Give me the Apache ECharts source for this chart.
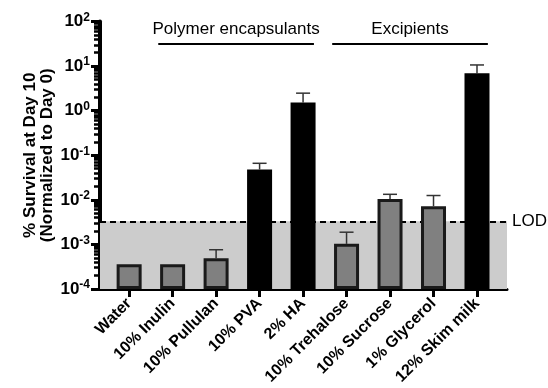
<!DOCTYPE html>
<html><head><meta charset="utf-8">
<script src="https://cdn.jsdelivr.net/npm/echarts@6/dist/echarts.min.js"></script>
<style>html,body{margin:0;padding:0;background:#fff}#c{width:548px;height:388px}</style>
</head><body><div id="c"></div>
<script>
const categories = ['Water','10% Inulin','10% Pullulan','10% PVA','2% HA','10% Trehalose','10% Sucrose','1% Glycerol','12% Skim milk'];
const survival = [3.6e-4, 3.6e-4, 4.9e-4, 0.048, 1.52, 1.03e-3, 0.0105, 0.0072, 6.9];
const errorUpper = [null, null, 7.6e-4, 0.066, 2.47, 1.88e-3, 0.0133, 0.0125, 10.6];
const isBlack = [false, false, false, true, true, false, false, false, true];
const lod = 3.3e-3;
const yTickValues = [1e-4, 1e-3, 1e-2, 1e-1, 1, 10, 100];
const groupNames = ['Polymer encapsulants', 'Excipients'];
const groupFrom = [0.67, 4.67];
const groupTo = [4.25, 8.25];

const FONT = "'Liberation Sans', Arial, Helvetica, sans-serif";
const minorTicks = [];
for (let d = -4; d < 2; d++) for (let k = 2; k <= 9; k++) minorTicks.push(+(k * Math.pow(10, d)).toPrecision(3));
const catIdx = categories.map((c, i) => i);

const chart = echarts.init(document.getElementById('c'));
const groupLevel = 31;
chart.setOption({
  animation: false,
  backgroundColor: '#fff',
  grid: { left: 100, right: 41, top: 21.5, bottom: 99 },
  xAxis: {
    type: 'value', min: -0.67, max: 8.69,
    axisLine: { show: true, onZero: false, lineStyle: { color: '#000', width: 3 } },
    axisTick: { show: true, customValues: catIdx, length: 8, lineStyle: { color: '#000', width: 3 } },
    axisLabel: { customValues: catIdx, rotate: 45, margin: 12, formatter: v => categories[Math.round(v)],
      fontFamily: FONT, fontWeight: 'bold', fontSize: 16, color: '#000' },
    splitLine: { show: false }
  },
  yAxis: [{
    type: 'log', logBase: 10, min: 1e-4, max: 100, startValue: 1e-4,
    name: '% Survival at Day 10\n(Normalized to Day 0)', nameLocation: 'middle', nameGap: 44, nameMoveOverlap: false,
    nameTextStyle: { fontFamily: FONT, fontWeight: 'bold', fontSize: 17, lineHeight: 17, color: '#000' },
    axisLine: { show: true, onZero: false, lineStyle: { color: '#000', width: 4 } },
    axisTick: { show: true, customValues: yTickValues, length: 9, lineStyle: { color: '#000', width: 3 } },
    axisLabel: { customValues: yTickValues, margin: 10,
      formatter: v => '{b|10}{s|' + Math.round(Math.log10(v)) + '}',
      rich: {
        b: { fontFamily: FONT, fontWeight: 'bold', fontSize: 17, color: '#000', lineHeight: 18 },
        s: { fontFamily: FONT, fontWeight: 'bold', fontSize: 12, color: '#000', padding: [0, 0, 8, 0] }
      } },
    splitLine: { show: false }
  }, {
    type: 'log', logBase: 10, min: 1e-4, max: 100, position: 'left', offset: 0,
    axisLine: { show: false, onZero: false },
    axisTick: { show: true, customValues: minorTicks, length: 6, lineStyle: { color: '#000', width: 2.5 } },
    axisLabel: { show: false },
    splitLine: { show: false }
  }],
  series: [{
    type: 'bar', z: 3, barWidth: 25,
    data: survival.map((v, i) => ({
      value: [i, v],
      itemStyle: { color: isBlack[i] ? '#000' : '#808080', borderColor: isBlack[i] ? '#000' : '#1a1a1a', borderWidth: 3 }
    })),
    markArea: { silent: true, z: 1, itemStyle: { color: '#cccccc' }, data: [[{ yAxis: 1e-4 }, { yAxis: lod }]] },
    markLine: { silent: true, z: 2, precision: 10, symbol: ['none', 'none'],
      lineStyle: { color: '#000', width: 2, type: [6, 4] },
      label: { show: true, position: 'end', formatter: 'LOD', distance: 5, fontFamily: FONT, fontSize: 17, color: '#000' },
      data: [{ yAxis: lod }] }
  }, {
    type: 'custom', z: 2,
    data: errorUpper.map((u, i) => u == null ? null : [i, survival[i], u]).filter(d => d),
    renderItem: (params, api) => {
      const x = api.value(0);
      const p0 = api.coord([x, api.value(1)]);
      const p1 = api.coord([x, api.value(2)]);
      const st = { stroke: '#333', lineWidth: 1.5 };
      return { type: 'group', children: [
        { type: 'line', shape: { x1: p0[0], y1: p0[1], x2: p1[0], y2: p1[1] }, style: st },
        { type: 'line', shape: { x1: p1[0] - 7, y1: p1[1], x2: p1[0] + 7, y2: p1[1] }, style: st }
      ] };
    },
    markLine: { silent: true, precision: 10, symbol: ['none', 'none'],
      lineStyle: { color: '#000', width: 2, type: 'solid' },
      label: { show: true, position: 'insideMiddleTop', distance: 6, fontFamily: FONT, fontSize: 17, color: '#000',
        formatter: p => p.name },
      data: groupNames.map((n, i) => [{ name: n, coord: [groupFrom[i], groupLevel] }, { coord: [groupTo[i], groupLevel] }]) }
  }]
});
</script></body></html>
